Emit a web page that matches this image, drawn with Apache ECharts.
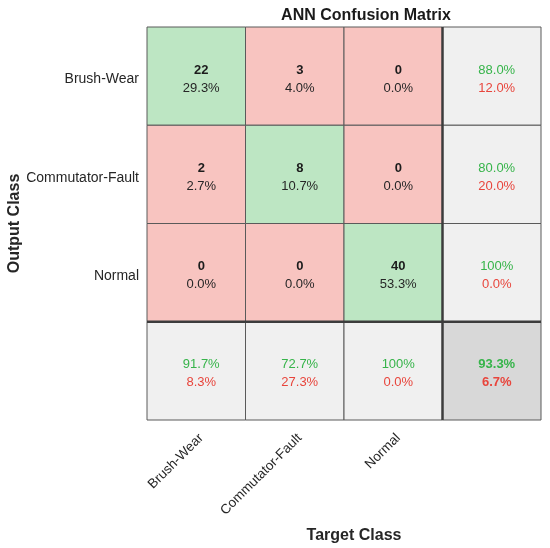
<!DOCTYPE html>
<html><head><meta charset="utf-8">
<script src="https://cdn.jsdelivr.net/npm/echarts@6/dist/echarts.min.js"></script>
<style>html,body{margin:0;padding:0;background:#fff}#c{width:550px;height:548px}</style>
</head><body><div id="c"></div>
<script>
const categories = ['Brush-Wear', 'Commutator-Fault', 'Normal'];
const counts = [[22, 3, 0], [2, 8, 0], [0, 0, 40]];
const percents = [[29.3, 4.0, 0.0], [2.7, 10.7, 0.0], [0.0, 0.0, 53.3]];
const rowCorrect = [88.0, 80.0, 100];
const rowWrong = [12.0, 20.0, 0.0];
const colCorrect = [91.7, 72.7, 100];
const colWrong = [8.3, 27.3, 0.0];
const overall = [93.3, 6.7];

const fmt = v => (v === 100 ? '100' : v.toFixed(1)) + '%';
const n = categories.length;
const cells = [];
for (let r = 0; r < n; r++) {
  for (let c = 0; c < n; c++) {
    cells.push({ value: [c, r], kind: r === c ? 'diag' : 'off', top: String(counts[r][c]), bot: fmt(percents[r][c]) });
  }
  cells.push({ value: [n, r], kind: 'sum', top: fmt(rowCorrect[r]), bot: fmt(rowWrong[r]) });
}
for (let c = 0; c < n; c++) {
  cells.push({ value: [c, n], kind: 'sum', top: fmt(colCorrect[c]), bot: fmt(colWrong[c]) });
}
cells.push({ value: [n, n], kind: 'all', top: fmt(overall[0]), bot: fmt(overall[1]) });

const fills = { diag: '#bde6c3', off: '#f8c4c0', sum: '#f0f0f0', all: '#d8d8d8' };
const FONT = 'Arial, "Liberation Sans", Helvetica, sans-serif';

const chart = echarts.init(document.getElementById('c'));
chart.setOption({
  animation: false,
  title: {
    text: 'ANN Confusion Matrix', left: 361, top: 3, textAlign: 'center',
    textStyle: { fontFamily: FONT, fontSize: 16, fontWeight: 'bold', color: '#1a1a1a' }
  },
  grid: { left: 147, right: 9, top: 27, bottom: 128, containLabel: false, outerBoundsMode: 'none' },
  xAxis: {
    type: 'category', data: categories.concat(['']), position: 'bottom',
    name: 'Target Class', nameLocation: 'middle', nameGap: 108, nameMoveOverlap: false,
    nameTextStyle: { fontFamily: FONT, fontSize: 16, fontWeight: 'bold', color: '#262626', padding: [0, 0, 0, 20] },
    axisLine: { show: false }, axisTick: { show: false }, splitLine: { show: false },
    axisLabel: { rotate: 45, margin: 11, verticalAlign: 'top', fontFamily: FONT, fontSize: 13.5, color: '#262626', interval: 0 }
  },
  yAxis: {
    type: 'category', data: categories.concat(['']), inverse: true,
    name: 'Output Class', nameLocation: 'middle', nameGap: 124, nameRotate: 90, nameMoveOverlap: false,
    nameTextStyle: { fontFamily: FONT, fontSize: 16, fontWeight: 'bold', color: '#262626' },
    axisLine: { show: false }, axisTick: { show: false }, splitLine: { show: false },
    axisLabel: {
      margin: 8, interval: 0,
      formatter: v => '{a|' + v + '}',
      rich: { a: { fontFamily: FONT, fontSize: 14, color: '#262626', padding: [7, 0, 0, 0] } }
    }
  },
  series: [{
    type: 'custom',
    coordinateSystem: 'cartesian2d',
    data: cells,
    renderItem: function (params, api) {
      const d = cells[params.dataIndex];
      const ctr = api.coord([api.value(0), api.value(1)]);
      const sz = api.size([1, 1]);
      const x0 = ctr[0] - sz[0] / 2, y0 = ctr[1] - sz[1] / 2;
      const isSum = d.kind === 'sum' || d.kind === 'all';
      const bold = d.kind === 'all';
      return {
        type: 'group',
        children: [
          { type: 'rect', shape: { x: x0, y: y0, width: sz[0], height: sz[1] },
            style: { fill: fills[d.kind], stroke: '#5a5a5a', lineWidth: 1 } },
          { type: 'text', x: ctr[0] + 5, y: ctr[1] - 6,
            style: { text: d.top, textAlign: 'center', textVerticalAlign: 'middle',
              font: ((isSum && !bold) ? 'normal ' : 'bold ') + '13px ' + FONT,
              fill: isSum ? '#36b44a' : '#1c1c1c' } },
          { type: 'text', x: ctr[0] + 5, y: ctr[1] + 12,
            style: { text: d.bot, textAlign: 'center', textVerticalAlign: 'middle',
              font: (bold ? 'bold ' : 'normal ') + '13px ' + FONT,
              fill: isSum ? '#e8453c' : '#262626' } }
        ]
      };
    }
  }, {
    type: 'custom',
    coordinateSystem: 'cartesian2d',
    data: [[n, n]],
    z: 5,
    renderItem: function (params, api) {
      const sz = api.size([1, 1]);
      const last = api.coord([n, n]);
      const first = api.coord([0, 0]);
      const px = last[0] - sz[0] / 2, py = last[1] - sz[1] / 2;
      const x1 = first[0] - sz[0] / 2, y1 = first[1] - sz[1] / 2;
      const x2 = last[0] + sz[0] / 2, y2 = last[1] + sz[1] / 2;
      return {
        type: 'group',
        children: [
          { type: 'line', shape: { x1: px, y1: y1, x2: px, y2: y2 }, style: { stroke: '#3c3c3c', lineWidth: 2.5 } },
          { type: 'line', shape: { x1: x1, y1: py, x2: x2, y2: py }, style: { stroke: '#3c3c3c', lineWidth: 2.5 } }
        ]
      };
    }
  }]
});
</script></body></html>
